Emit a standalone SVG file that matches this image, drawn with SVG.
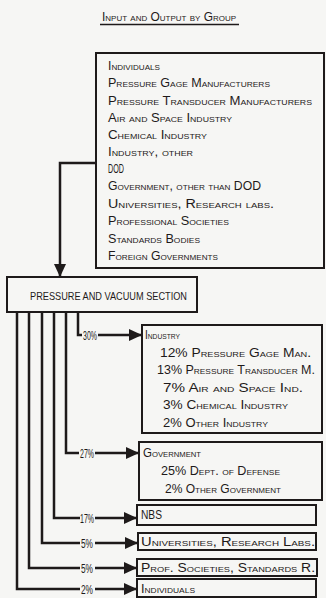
<svg xmlns="http://www.w3.org/2000/svg" width="326" height="598" viewBox="0 0 326 598">
<style>
  .bg { fill: #f6f6f4; }
  .box { fill: none; stroke: #1e1a1a; stroke-width: 2; }
  .ln { fill: none; stroke: #1e1a1a; stroke-width: 2.5; }
  .t { font-family: "Liberation Sans", Arial, sans-serif; font-size: 12px; font-variant: small-caps; fill: #1e1a1a; }
  .p { font-family: "Liberation Sans", Arial, sans-serif; font-size: 11px; fill: #1e1a1a; }
  .pc { font-family: "Liberation Sans", Arial, sans-serif; font-size: 12.5px; fill: #1e1a1a; }
</style>
<defs>
  <marker id="ah" markerUnits="userSpaceOnUse" markerWidth="14" markerHeight="12" refX="13" refY="6" orient="auto">
    <path d="M0,0 L13,6 L0,12 Z" fill="#1e1a1a"/>
  </marker>
</defs>
<rect class="bg" x="0" y="0" width="326" height="598"/>

<g id="title">
  <text class="t" x="102" y="21" font-size="11" textLength="134" lengthAdjust="spacingAndGlyphs">Input and Output by Group</text>
  <line x1="100" y1="24.5" x2="239" y2="24.5" stroke="#1e1a1a" stroke-width="1.5"/>
</g>

<g id="groups">
  <rect class="box" x="96" y="53" width="228" height="215"/>
  <text class="t" x="108" y="70" textLength="52" lengthAdjust="spacingAndGlyphs">Individuals</text>
  <text class="t" x="108" y="87" textLength="162" lengthAdjust="spacingAndGlyphs">Pressure Gage Manufacturers</text>
  <text class="t" x="108" y="105" textLength="204" lengthAdjust="spacingAndGlyphs">Pressure Transducer Manufacturers</text>
  <text class="t" x="108" y="122" textLength="124" lengthAdjust="spacingAndGlyphs">Air and Space Industry</text>
  <text class="t" x="108" y="139" textLength="99" lengthAdjust="spacingAndGlyphs">Chemical Industry</text>
  <text class="t" x="108" y="156" textLength="85" lengthAdjust="spacingAndGlyphs">Industry, other</text>
  <text class="t" x="108" y="173" textLength="16" lengthAdjust="spacingAndGlyphs">DOD</text>
  <text class="t" x="108" y="190" textLength="153" lengthAdjust="spacingAndGlyphs">Government, other than DOD</text>
  <text class="t" x="108" y="208" textLength="166" lengthAdjust="spacingAndGlyphs">Universities, Research labs.</text>
  <text class="t" x="108" y="225" textLength="121" lengthAdjust="spacingAndGlyphs">Professional Societies</text>
  <text class="t" x="108" y="243" textLength="92" lengthAdjust="spacingAndGlyphs">Standards Bodies</text>
  <text class="t" x="108" y="260" textLength="110" lengthAdjust="spacingAndGlyphs">Foreign Governments</text>
</g>

<g id="section">
  <rect class="box" x="7" y="277" width="190" height="35"/>
  <text class="p" x="30" y="300" font-size="11.5" textLength="157" lengthAdjust="spacingAndGlyphs">PRESSURE AND VACUUM SECTION</text>
</g>

<g id="industry">
  <rect class="box" x="142" y="325" width="180" height="108"/>
  <text class="t" x="145" y="339" textLength="35" lengthAdjust="spacingAndGlyphs">Industry</text>
  <text class="t" x="160" y="357" textLength="151" lengthAdjust="spacingAndGlyphs">12% Pressure Gage Man.</text>
  <text class="t" x="157" y="374" textLength="158" lengthAdjust="spacingAndGlyphs">13% Pressure Transducer M.</text>
  <text class="t" x="163" y="392" textLength="140" lengthAdjust="spacingAndGlyphs">7% Air and Space Ind.</text>
  <text class="t" x="163" y="409" textLength="125" lengthAdjust="spacingAndGlyphs">3% Chemical Industry</text>
  <text class="t" x="163" y="427" textLength="105" lengthAdjust="spacingAndGlyphs">2% Other Industry</text>
</g>

<g id="government">
  <rect class="box" x="139" y="442" width="183" height="58"/>
  <text class="t" x="143" y="457" textLength="58" lengthAdjust="spacingAndGlyphs">Government</text>
  <text class="t" x="161" y="475" textLength="119" lengthAdjust="spacingAndGlyphs">25% Dept. of Defense</text>
  <text class="t" x="165" y="493" textLength="116" lengthAdjust="spacingAndGlyphs">2% Other Government</text>
</g>

<g id="nbs">
  <rect class="box" x="137" y="505" width="179" height="20"/>
  <text class="t" x="141" y="519" textLength="21" lengthAdjust="spacingAndGlyphs">NBS</text>
</g>

<g id="universities">
  <rect class="box" x="138" y="533" width="178" height="17"/>
  <text class="t" x="141" y="546" textLength="174" lengthAdjust="spacingAndGlyphs">Universities, Research Labs.</text>
</g>

<g id="societies">
  <rect class="box" x="137" y="559" width="180" height="17"/>
  <text class="t" x="141" y="572" textLength="174" lengthAdjust="spacingAndGlyphs">Prof. Societies, Standards R.</text>
</g>

<g id="individuals">
  <rect class="box" x="137" y="579" width="179" height="18"/>
  <text class="t" x="141" y="593" textLength="54" lengthAdjust="spacingAndGlyphs">Individuals</text>
</g>

<g id="connectors">
  <polyline class="ln" points="96,163 60,163 60,277" marker-end="url(#ah)"/>

  <polyline class="ln" points="78,312 78,335 82,335"/>
  <line class="ln" x1="98" y1="335" x2="142" y2="335" marker-end="url(#ah)"/>
  <text class="pc" x="83" y="339.5" textLength="14" lengthAdjust="spacingAndGlyphs">30%</text>

  <polyline class="ln" points="66,312 66,453 79,453"/>
  <line class="ln" x1="95" y1="453" x2="139" y2="453" marker-end="url(#ah)"/>
  <text class="pc" x="80" y="457.5" textLength="14" lengthAdjust="spacingAndGlyphs">27%</text>

  <polyline class="ln" points="54,312 54,518 80,518"/>
  <line class="ln" x1="95" y1="518" x2="137" y2="518" marker-end="url(#ah)"/>
  <text class="pc" x="80" y="522.5" textLength="14" lengthAdjust="spacingAndGlyphs">17%</text>

  <polyline class="ln" points="42,312 42,543 80,543"/>
  <line class="ln" x1="95" y1="543" x2="138" y2="543" marker-end="url(#ah)"/>
  <text class="pc" x="81" y="547.5" textLength="12" lengthAdjust="spacingAndGlyphs">5%</text>

  <polyline class="ln" points="29,312 29,568 80,568"/>
  <line class="ln" x1="95" y1="568" x2="137" y2="568" marker-end="url(#ah)"/>
  <text class="pc" x="81" y="572.5" textLength="12" lengthAdjust="spacingAndGlyphs">5%</text>

  <polyline class="ln" points="17,312 17,589 80,589"/>
  <line class="ln" x1="95" y1="589" x2="137" y2="589" marker-end="url(#ah)"/>
  <text class="pc" x="81" y="593.5" textLength="12" lengthAdjust="spacingAndGlyphs">2%</text>
</g>
</svg>
